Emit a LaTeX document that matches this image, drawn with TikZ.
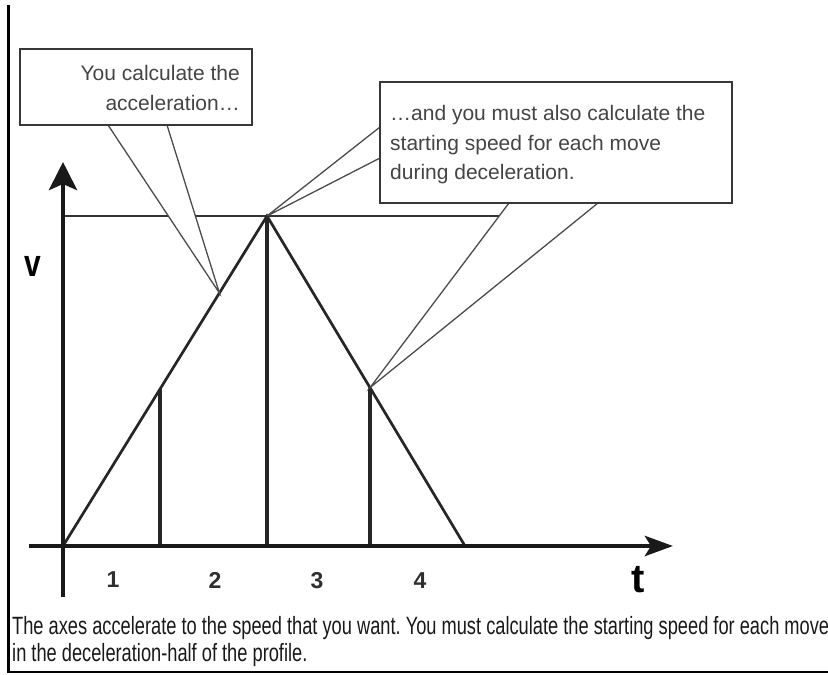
\documentclass[tikz,border=0pt]{standalone}
\usepackage{fontspec}
\usetikzlibrary{arrows.meta,calc}
\newfontfamily\callfont{Liberation Sans}
\newfontfamily\capfont[FakeStretch=0.73]{Liberation Sans}
\newfontfamily\labfont{Liberation Sans}
\definecolor{calltext}{HTML}{454545}
\definecolor{labgray}{HTML}{2E2E2E}
\frenchspacing
\begin{document}
\begin{tikzpicture}[x=1pt,y=-1pt,
  frameline/.style={line width=2.5pt,black},
  axisline/.style={line width=4.8pt,black!90},
  profile/.style={line width=2.7pt,black!85},
  divider/.style={line width=3.6pt,black!85},
  levelline/.style={line width=2.7pt,black!80},
  wedge/.style={fill=white},
  wedgeside/.style={line width=1.3pt,black!70},
  callbox/.style={fill=white,draw=black!78,line width=2.3pt},
  calltxt/.style={inner sep=0pt,font=\callfont\fontsize{21}{30}\selectfont,text=calltext},
  captxt/.style={inner sep=0pt,anchor=base west,font=\capfont\fontsize{25}{27}\selectfont,text=black!90},
  numlab/.style={inner sep=0pt,font=\labfont\bfseries\fontsize{23}{23}\selectfont,text=labgray},
  axlab/.style={inner sep=0pt,font=\labfont\bfseries\fontsize{40}{40}\selectfont,text=black}]
\useasboundingbox (0,0) rectangle (828,675);
% frame
\coordinate (ftop) at (8.5,5);
\coordinate (fcorner) at (8.5,672);
\coordinate (fright) at (828,672);
\draw[frameline] (ftop) -- (fcorner) -- (fright);
% key points
\coordinate (O) at (63,546);
\coordinate (P) at (267,216);
\coordinate (E) at (465,546);
\coordinate (A) at ($(O)!97/204!(P)$);
\coordinate (D) at ($(P)!103/198!(E)$);
\coordinate (Ab) at (160,546);
\coordinate (Pb) at (267,546);
\coordinate (Db) at (370,546);
\coordinate (T1) at ($(O)!253/330!(P)$);
\coordinate (Ly) at (63,216);
\coordinate (Lend) at (540,216);
\coordinate (ybot) at (63,597);
\coordinate (ytop) at (63,162);
\coordinate (xleft) at (29,546);
\coordinate (xright) at (673,546);
% level line
\draw[levelline] (Ly) -- (Lend);
% profile
\draw[profile] (O) -- (P) -- (E);
% dividers
\draw[divider] (Ab) -- (A);
\draw[divider,line width=4pt] (Pb) -- (P);
\draw[divider] (Db) -- (D);
% axes
\draw[axisline,-{Stealth[length=28pt,width=28pt,inset=6pt]}] (ybot) -- (ytop);
\draw[axisline,-{Stealth[length=28pt,width=20pt,inset=6pt]}] (xleft) -- (xright);
% labels
\node[numlab] (n1) at (113,580) {1};
\node[numlab] (n2) at (215,580) {2};
\node[numlab] (n3) at (317,581) {3};
\node[numlab] (n4) at (420,581) {4};
\node[axlab] (tl) at (638,580) {t};
\node[axlab] (vl) at (33,266) {\scalebox{0.75}[0.95]{v}};
% callout 1 wedge
\coordinate (w1a) at (108,125);
\coordinate (w1b) at (167,125);
\fill[wedge] (w1a) -- (T1) -- (w1b) -- cycle;
\draw[wedgeside] (w1a) -- (T1) -- (w1b);
% callout 2 wedges
\coordinate (w2a) at (380,127);
\coordinate (w2b) at (380,158);
\fill[wedge] (w2a) -- (P) -- (w2b) -- cycle;
\draw[wedgeside] (w2a) -- (P) -- (w2b);
\coordinate (w3a) at (509,203);
\coordinate (w3b) at (598,203);
\fill[wedge] (w3a) -- (D) -- (w3b) -- cycle;
\draw[wedgeside] (w3a) -- (D) -- (w3b);
% boxes
\draw[callbox] (20,49) rectangle (252,125);
\draw[callbox] (380,82) rectangle (732,203);
% callout texts
\node[calltxt,anchor=base east] (c1a) at (240,80) {You calculate the};
\node[calltxt,anchor=base east] (c1b) at (240,110) {acceleration…};
\node[calltxt,anchor=base west] (c2a) at (390,120) {…and you must also calculate the};
\node[calltxt,anchor=base west] (c2b) at (390,150) {starting speed for each move};
\node[calltxt,anchor=base west] (c2c) at (390,179) {during deceleration.};
% caption
\node[captxt] (cap1) at (12,634) {The axes accelerate to the speed that you want. You must calculate the starting speed for each move};
\node[captxt] (cap2) at (12,661) {in the deceleration-half of the profile.};
\end{tikzpicture}
\end{document}
